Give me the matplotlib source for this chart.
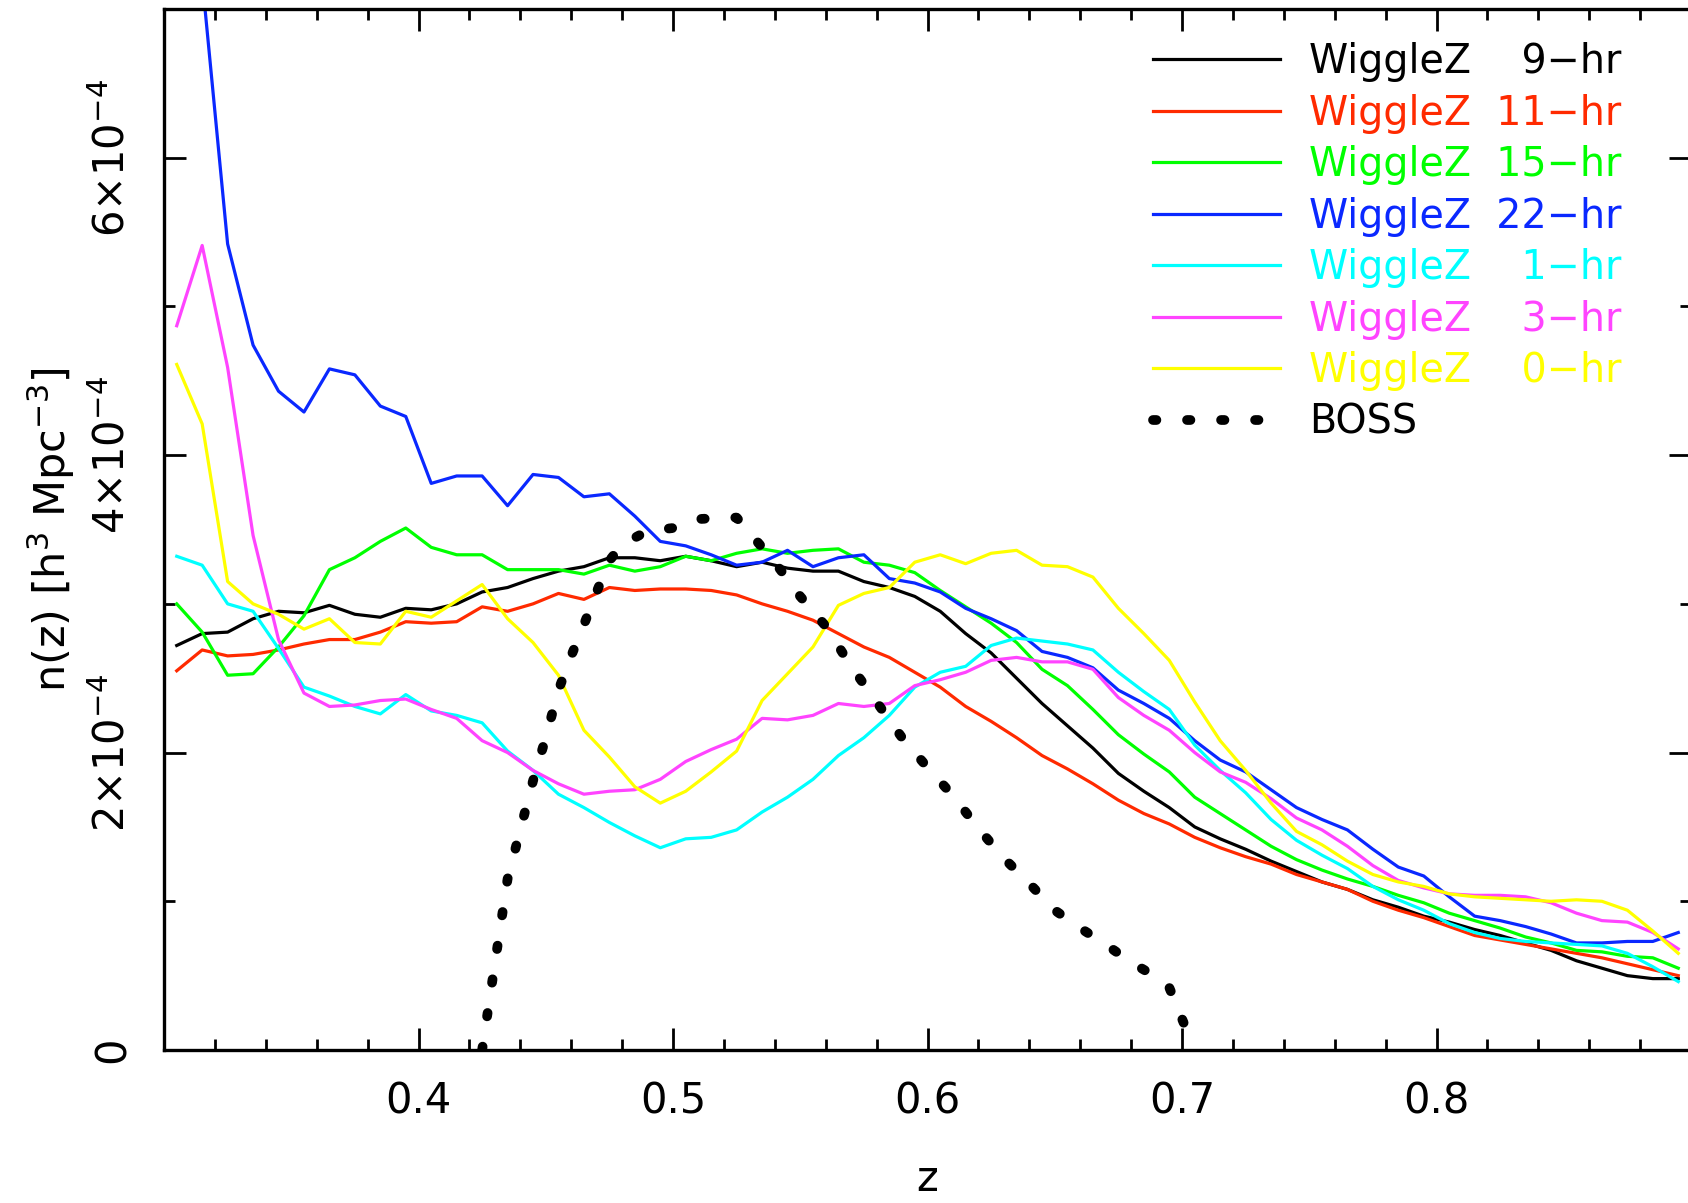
import numpy as np
import matplotlib
matplotlib.use('Agg')
from matplotlib import pyplot as plt

# redshift bin centres
z = [0.305, 0.315, 0.325, 0.335, 0.345, 0.355, 0.365, 0.375, 0.385, 0.395,
     0.405, 0.415, 0.425, 0.435, 0.445, 0.455, 0.465, 0.475, 0.485, 0.495,
     0.505, 0.515, 0.525, 0.535, 0.545, 0.555, 0.565, 0.575, 0.585, 0.595,
     0.605, 0.615, 0.625, 0.635, 0.645, 0.655, 0.665, 0.675, 0.685, 0.695,
     0.705, 0.715, 0.725, 0.735, 0.745, 0.755, 0.765, 0.775, 0.785, 0.795,
     0.805, 0.815, 0.825, 0.835, 0.845, 0.855, 0.865, 0.875, 0.885, 0.895]

# n(z) in units of 1e-4 h^3 Mpc^-3
n_9hr = [2.72, 2.80, 2.81, 2.90, 2.95, 2.94, 2.99, 2.93, 2.91, 2.97,
         2.96, 3.00, 3.08, 3.11, 3.17, 3.22, 3.25, 3.31, 3.31, 3.29,
         3.32, 3.29, 3.25, 3.28, 3.24, 3.22, 3.22, 3.15, 3.11, 3.05,
         2.95, 2.80, 2.67, 2.50, 2.33, 2.18, 2.03, 1.86, 1.74, 1.63,
         1.50, 1.42, 1.35, 1.27, 1.20, 1.13, 1.08, 1.01, 0.96, 0.90,
         0.86, 0.81, 0.77, 0.72, 0.67, 0.60, 0.55, 0.50, 0.48, 0.48]
n_11hr = [2.55, 2.69, 2.65, 2.66, 2.69, 2.73, 2.76, 2.76, 2.81, 2.88,
          2.87, 2.88, 2.98, 2.95, 3.00, 3.07, 3.03, 3.11, 3.09, 3.10,
          3.10, 3.09, 3.06, 3.00, 2.95, 2.89, 2.80, 2.71, 2.64, 2.54,
          2.44, 2.31, 2.21, 2.10, 1.98, 1.89, 1.79, 1.68, 1.59, 1.52,
          1.43, 1.36, 1.30, 1.25, 1.18, 1.13, 1.08, 1.00, 0.94, 0.89,
          0.83, 0.77, 0.74, 0.71, 0.68, 0.65, 0.62, 0.58, 0.54, 0.50]
n_15hr = [3.00, 2.81, 2.52, 2.53, 2.71, 2.92, 3.23, 3.31, 3.42, 3.51,
          3.38, 3.33, 3.33, 3.23, 3.23, 3.23, 3.20, 3.26, 3.22, 3.25,
          3.32, 3.29, 3.34, 3.37, 3.34, 3.36, 3.37, 3.28, 3.26, 3.21,
          3.09, 2.98, 2.87, 2.74, 2.56, 2.45, 2.29, 2.12, 1.99, 1.87,
          1.70, 1.59, 1.48, 1.37, 1.28, 1.21, 1.15, 1.10, 1.04, 0.99,
          0.92, 0.87, 0.82, 0.76, 0.72, 0.67, 0.66, 0.63, 0.62, 0.55]
n_22hr = [8.00, 7.20, 5.42, 4.74, 4.43, 4.29, 4.58, 4.54, 4.33, 4.26,
          3.81, 3.86, 3.86, 3.66, 3.87, 3.85, 3.72, 3.74, 3.59, 3.42,
          3.39, 3.33, 3.26, 3.28, 3.36, 3.25, 3.31, 3.33, 3.17, 3.14,
          3.08, 2.97, 2.90, 2.82, 2.68, 2.64, 2.57, 2.42, 2.33, 2.23,
          2.08, 1.95, 1.87, 1.75, 1.63, 1.55, 1.48, 1.35, 1.23, 1.17,
          1.03, 0.90, 0.87, 0.83, 0.78, 0.72, 0.72, 0.73, 0.73, 0.79]
n_1hr = [3.32, 3.26, 3.00, 2.95, 2.70, 2.44, 2.38, 2.31, 2.26, 2.39,
         2.28, 2.25, 2.20, 2.01, 1.88, 1.72, 1.63, 1.53, 1.44, 1.36,
         1.42, 1.43, 1.48, 1.60, 1.70, 1.82, 1.98, 2.10, 2.25, 2.44,
         2.54, 2.58, 2.72, 2.77, 2.75, 2.73, 2.69, 2.54, 2.41, 2.29,
         2.05, 1.88, 1.73, 1.55, 1.41, 1.31, 1.22, 1.10, 1.01, 0.94,
         0.85, 0.79, 0.75, 0.73, 0.72, 0.71, 0.70, 0.65, 0.56, 0.46]
n_3hr = [4.87, 5.41, 4.59, 3.46, 2.76, 2.40, 2.31, 2.32, 2.35, 2.36,
         2.29, 2.23, 2.08, 2.00, 1.88, 1.79, 1.72, 1.74, 1.75, 1.82,
         1.94, 2.02, 2.09, 2.23, 2.22, 2.25, 2.33, 2.31, 2.33, 2.45,
         2.49, 2.54, 2.62, 2.64, 2.61, 2.61, 2.56, 2.37, 2.25, 2.15,
         2.00, 1.87, 1.80, 1.69, 1.56, 1.48, 1.37, 1.24, 1.14, 1.09,
         1.05, 1.04, 1.04, 1.03, 0.99, 0.92, 0.87, 0.86, 0.79, 0.68]
n_0hr = [4.61, 4.21, 3.15, 3.00, 2.93, 2.83, 2.90, 2.74, 2.73, 2.95,
         2.91, 3.02, 3.13, 2.90, 2.74, 2.52, 2.15, 1.97, 1.77, 1.66,
         1.74, 1.87, 2.01, 2.35, 2.53, 2.71, 2.99, 3.07, 3.11, 3.28,
         3.33, 3.27, 3.34, 3.36, 3.26, 3.25, 3.18, 2.97, 2.80, 2.62,
         2.34, 2.08, 1.88, 1.66, 1.47, 1.38, 1.27, 1.18, 1.13, 1.10,
         1.05, 1.03, 1.02, 1.01, 1.00, 1.01, 1.00, 0.94, 0.80, 0.65]

# BOSS curve
boss_z = [0.425, 0.430, 0.435, 0.440, 0.445, 0.450, 0.455, 0.460, 0.465, 0.470,
          0.475, 0.480, 0.490, 0.500, 0.510, 0.520, 0.525, 0.530, 0.540, 0.550,
          0.560, 0.570, 0.580, 0.590, 0.600, 0.610, 0.620, 0.630, 0.640, 0.650,
          0.660, 0.670, 0.680, 0.690, 0.695, 0.700, 0.705]
boss_n = [0.00, 0.58, 1.15, 1.48, 1.81, 2.10, 2.42, 2.65, 2.86, 3.08,
          3.29, 3.40, 3.49, 3.51, 3.57, 3.58, 3.58, 3.48, 3.28, 3.05,
          2.85, 2.58, 2.34, 2.10, 1.90, 1.71, 1.49, 1.29, 1.12, 0.94,
          0.82, 0.71, 0.59, 0.49, 0.42, 0.21, 0.00]

labels = ['WiggleZ    9\u2212hr', 'WiggleZ  11\u2212hr', 'WiggleZ  15\u2212hr',
          'WiggleZ  22\u2212hr', 'WiggleZ    1\u2212hr', 'WiggleZ    3\u2212hr',
          'WiggleZ    0\u2212hr']
colors = ['black', '#ff2a00', '#00ff00', '#0a28ff', '#00ffff', '#ff44ff', '#ffff00']
series = [n_9hr, n_11hr, n_15hr, n_22hr, n_1hr, n_3hr, n_0hr]

plt.rcParams['font.family'] = ['DejaVu Sans']
plt.rcParams['mathtext.fontset'] = 'dejavusans'

fig = plt.figure(figsize=(16.88, 12.03), dpi=100)
ax = fig.add_axes([164 / 1688, 1 - 1050 / 1203, 1527 / 1688, 1041 / 1203])

zz = np.array(z)
for vals, col, lab in zip(series, colors, labels):
    ax.plot(zz, np.array(vals) * 1e-4, color=col, lw=2.3, label=lab)
ax.plot(np.array(boss_z), np.array(boss_n) * 1e-4, color='black', lw=7,
        linestyle=(0, (0.35, 3.15)), dash_capstyle='round', label='BOSS')

ax.set_xlim(0.3, 0.9)
ax.set_ylim(0, 7e-4)

ax.set_xticks([0.4, 0.5, 0.6, 0.7, 0.8])
ax.set_xticklabels(['0.4', '0.5', '0.6', '0.7', '0.8'])
ax.set_xticks([0.32, 0.34, 0.36, 0.38, 0.42, 0.44, 0.46, 0.48, 0.52, 0.54, 0.56, 0.58,
               0.62, 0.64, 0.66, 0.68, 0.72, 0.74, 0.76, 0.78, 0.82, 0.84, 0.86, 0.88],
              minor=True)
ax.set_yticks([0, 2e-4, 4e-4, 6e-4])
ax.set_yticklabels(['0', r'$2{\times}10^{-4}$', r'$4{\times}10^{-4}$', r'$6{\times}10^{-4}$'],
                   rotation=90, va='center')
ax.set_yticks([1e-4, 3e-4, 5e-4], minor=True)

ax.tick_params(which='both', direction='in', top=True, right=True, width=2.0,
               labelsize=30, pad=22)
ax.tick_params(which='major', length=16)
ax.tick_params(which='minor', length=8)
for s in ax.spines.values():
    s.set_linewidth(2.4)

ax.set_xlabel('z', fontsize=30)
ax.xaxis.set_label_coords(0.5, -0.104)
ax.xaxis.label.set_va('top')
ax.set_ylabel(r'n(z) [h$^{3}$ Mpc$^{-3}$]', fontsize=31)
ax.yaxis.set_label_coords(-0.057, 0.5)

leg = ax.legend(loc='upper left', bbox_to_anchor=(0.648, 0.968), frameon=False,
                fontsize=28.5, handlelength=3.2, handletextpad=0.72,
                labelspacing=0.29, borderpad=0, borderaxespad=0,
                labelcolor='linecolor')

fig.savefig('out.png', dpi=100)
